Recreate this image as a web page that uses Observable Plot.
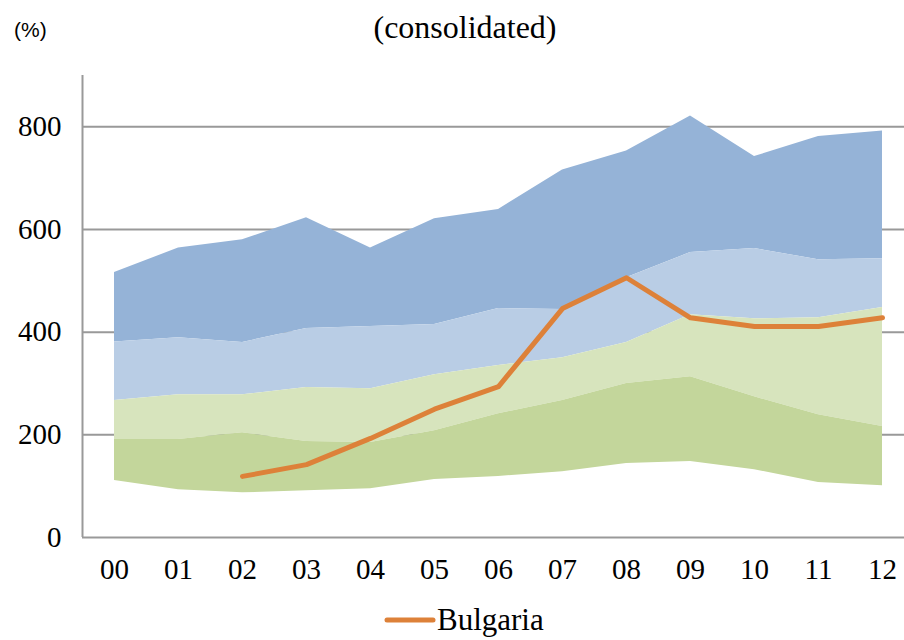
<!DOCTYPE html>
<html>
<head>
<meta charset="utf-8">
<script src="https://cdn.jsdelivr.net/npm/d3@7"></script>
<script src="https://cdn.jsdelivr.net/npm/@observablehq/plot@0.6"></script>
<style>
  html, body { margin: 0; padding: 0; background: #fff; }
  #wrap { position: relative; width: 904px; height: 640px; overflow: hidden; }
  #chart { position: absolute; left: 0; top: 0; }
  .txt { position: absolute; white-space: nowrap; color: #000; line-height: 1; }
  #unit { left: 14px; top: 19px; font-family: "Liberation Sans", Arial, sans-serif; font-size: 21px; }
  #sub { left: 0; width: 930px; text-align: center; top: 11px; font-family: "Liberation Serif", "Times New Roman", serif; font-size: 32px; }
  #legend { left: 384px; top: 604px; font-family: "Liberation Serif", "Times New Roman", serif; font-size: 31px; display: flex; align-items: center; }
  #legend svg { margin-right: 1px; }
</style>
</head>
<body>
<div id="wrap">
  <div id="chart"></div>
  <div class="txt" id="unit">(%)</div>
  <div class="txt" id="sub">(consolidated)</div>
  <div class="txt" id="legend"><svg width="52" height="10"><line x1="3" y1="5" x2="49" y2="5" stroke="#dd8139" stroke-width="5" stroke-linecap="round"/></svg><span>Bulgaria</span></div>
</div>
<script>
// Category labels (years)
const years = ["00","01","02","03","04","05","06","07","08","09","10","11","12"];
// Band boundaries (bottom to top)
const p0 = [111, 93, 87, 91, 95, 113, 119, 128, 144, 148, 132, 107, 101];
const p1 = [191, 191, 204, 187, 185, 208, 241, 267, 300, 313, 274, 239, 216];
const p2 = [267, 278, 278, 292, 290, 317, 335, 350, 380, 434, 426, 428, 448];
const p3 = [381, 389, 380, 407, 411, 415, 446, 444, 506, 555, 563, 541, 543];
const p4 = [516, 564, 580, 623, 564, 621, 639, 716, 753, 821, 742, 781, 792];
// Bulgaria series
const bulgaria = [null, null, 119, 142, 193, 250, 294, 446, 506, 428, 411, 411, 428];
// Y ticks
const yTicks = [0, 200, 400, 600, 800];
const gridTicks = [200, 400, 600, 800];

const rows = years.map((y, i) => ({i, year: y, p0: p0[i], p1: p1[i], p2: p2[i], p3: p3[i], p4: p4[i]}));
const bg = years.map((y, i) => ({i, year: y, v: bulgaria[i]})).filter(d => d.v != null);

const chart = Plot.plot({
  width: 904,
  height: 640,
  marginTop: 75,
  marginBottom: 103,
  marginLeft: 82,
  marginRight: 0,
  style: {fontFamily: "'Liberation Serif', 'Times New Roman', serif", fontSize: "29px", color: "#000", background: "transparent", overflow: "visible"},
  x: {type: "linear", domain: [-0.5, 12.5], range: [82, 914], ticks: d3.range(years.length), tickFormat: i => years[i], tickSize: 0, tickPadding: 21, label: null},
  y: {domain: [0, 900], ticks: yTicks, tickSize: 0, tickPadding: 21, label: null},
  marks: [
    Plot.ruleY(gridTicks, {stroke: "#999", strokeWidth: 2, strokeOpacity: 1}),
    Plot.areaY(rows, {x: "i", y1: "p3", y2: "p4", fill: "#95b3d7", fillOpacity: 1}),
    Plot.areaY(rows, {x: "i", y1: "p2", y2: "p3", fill: "#b9cde5", fillOpacity: 1}),
    Plot.areaY(rows, {x: "i", y1: "p1", y2: "p2", fill: "#d7e4bd", fillOpacity: 1}),
    Plot.areaY(rows, {x: "i", y1: "p0", y2: "p1", fill: "#c3d69b", fillOpacity: 1}),
    Plot.ruleY([0], {stroke: "#999", strokeWidth: 2, strokeOpacity: 1}),
    Plot.ruleX([-0.5], {y1: 0, y2: 900, stroke: "#999", strokeWidth: 2, strokeOpacity: 1}),
    Plot.line(bg, {x: "i", y: "v", stroke: "#dd8139", strokeWidth: 5, strokeLinecap: "round", strokeLinejoin: "round"})
  ]
});
document.getElementById("chart").appendChild(chart);
</script>
</body>
</html>
